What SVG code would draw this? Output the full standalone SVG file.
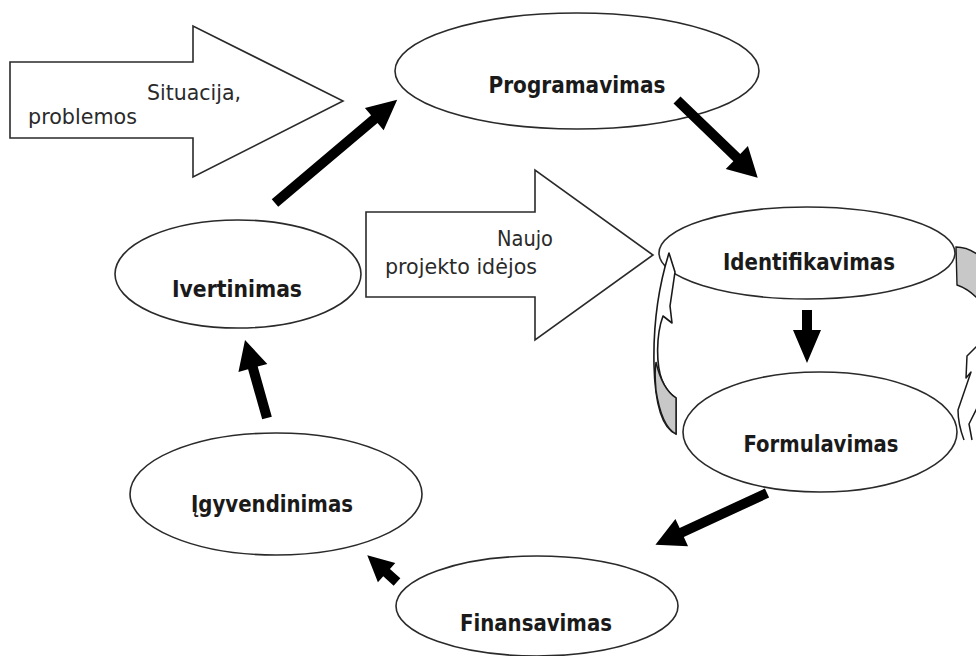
<svg xmlns="http://www.w3.org/2000/svg" width="976" height="656" viewBox="0 0 976 656">
  <defs>
    <style>
      .shape { fill: #ffffff; stroke: #2a2a2a; stroke-width: 1.6; }
      .ribbon { fill: #ffffff; stroke: #1a1a1a; stroke-width: 1.6; stroke-linejoin: round; }
      .shade { fill: #c8c8c8; stroke: #1a1a1a; stroke-width: 1.4; }
      .thin { fill: none; stroke: #1a1a1a; stroke-width: 1.5; stroke-linejoin: round; }
      .label { font-family: "DejaVu Sans", Verdana, sans-serif; font-weight: bold; font-size: 23px; fill: #1a1a1a; text-anchor: middle; }
      .note { font-family: "DejaVu Sans", Verdana, sans-serif; font-size: 21px; fill: #2a2a2a; }
      .flow { fill: #000000; stroke: none; }
    </style>
  </defs>

  <rect width="976" height="656" fill="#ffffff"/>

  <!-- input block arrows -->
  <g id="situacija">
    <polygon class="shape" points="10,62 193,62 193,26 343,101 193,177 193,138 10,138"/>
    <text class="note" x="147" y="100" textLength="94" lengthAdjust="spacingAndGlyphs">Situacija,</text>
    <text class="note" x="28" y="124" textLength="109" lengthAdjust="spacingAndGlyphs">problemos</text>
  </g>

  <g id="naujo-projekto-idejos">
    <polygon class="shape" points="366,212 535,212 535,170 653,255 535,340 535,297 366,297"/>
    <text class="note" x="497" y="246" textLength="56" lengthAdjust="spacingAndGlyphs">Naujo</text>
    <text class="note" x="385" y="274" textLength="152" lengthAdjust="spacingAndGlyphs">projekto idėjos</text>
  </g>

  <!-- cycle stages -->
  <g id="programavimas">
    <ellipse class="shape" cx="577" cy="71" rx="182" ry="58"/>
    <text class="label" x="577" y="93" textLength="177" lengthAdjust="spacingAndGlyphs">Programavimas</text>
  </g>

  <g id="identifikavimas">
    <ellipse class="shape" cx="807" cy="253" rx="148" ry="46"/>
    <text class="label" x="809" y="270" textLength="172" lengthAdjust="spacingAndGlyphs">Identifikavimas</text>
  </g>

  <g id="formulavimas">
    <ellipse class="shape" cx="820" cy="432" rx="137" ry="60"/>
    <text class="label" x="821" y="452" textLength="155" lengthAdjust="spacingAndGlyphs">Formulavimas</text>
  </g>

  <g id="finansavimas">
    <ellipse class="shape" cx="537" cy="606" rx="141" ry="50"/>
    <text class="label" x="536" y="631" textLength="152" lengthAdjust="spacingAndGlyphs">Finansavimas</text>
  </g>

  <g id="igyvendinimas">
    <ellipse class="shape" cx="276" cy="494" rx="146" ry="61"/>
    <text class="label" x="272" y="512" textLength="162" lengthAdjust="spacingAndGlyphs">Įgyvendinimas</text>
  </g>

  <g id="ivertinimas">
    <ellipse class="shape" cx="238" cy="274" rx="123" ry="54"/>
    <text class="label" x="237" y="297" textLength="130" lengthAdjust="spacingAndGlyphs">Ivertinimas</text>
  </g>

  <!-- curved loop arrows around identification / formulation -->
  <g id="loop-left">
    <path class="ribbon" d="M 669,253 L 675,272 L 670,306 L 672,323 L 663,316 C 656,335 656,365 662,380 C 666,390 671,395 676,398 L 676,434 C 662,428 655,405 654,365 C 653,320 659,285 669,253 Z"/>
    <path class="shade" d="M 676,398 L 676,434 C 665,428 659,410 656,390 C 655,378 655,368 656,362 C 660,380 667,392 676,398 Z"/>
  </g>

  <g id="loop-right">
    <path class="shade" d="M 956,247 C 964,247 971,250 977,254 L 977,298 C 970,291 963,287 957,285 Z"/>
    <path class="thin" d="M 977,346 L 967,356 L 966,378 L 971,372 L 958,410 C 958,422 961,432 964,440"/>
    <path class="thin" d="M 977,408 L 969,424 L 972,440"/>
  </g>

  <!-- flow connectors -->
  <g id="connectors">
    <!-- Ivertinimas to Programavimas -->
    <polygon class="flow" transform="translate(275,203) rotate(-40.2)" points="0,-5 130,-5 130,-14.5 160,0 130,14.5 130,5 0,5"/>
    <!-- Programavimas to Identifikavimas -->
    <polygon class="flow" transform="translate(677,100) rotate(43.9)" points="0,-5 83,-5 83,-16 112,0 83,16 83,5 0,5"/>
    <!-- Identifikavimas to Formulavimas -->
    <polygon class="flow" transform="translate(807,310) rotate(90)" points="0,-5 20,-5 20,-14 53,0 20,14 20,5 0,5"/>
    <!-- Formulavimas to Finansavimas -->
    <polygon class="flow" transform="translate(767,493) rotate(155.1)" points="0,-5 94,-5 94,-15 123,0 94,15 94,5 0,5"/>
    <!-- Finansavimas to Igyvendinimas -->
    <polygon class="flow" transform="translate(397,582) rotate(-138)" points="0,-5 14,-5 14,-13 40,0 14,13 14,5 0,5"/>
    <!-- Igyvendinimas to Ivertinimas -->
    <polygon class="flow" transform="translate(267,418) rotate(-105.75)" points="0,-5 52,-5 52,-15 81,0 52,15 52,5 0,5"/>
  </g>
</svg>
